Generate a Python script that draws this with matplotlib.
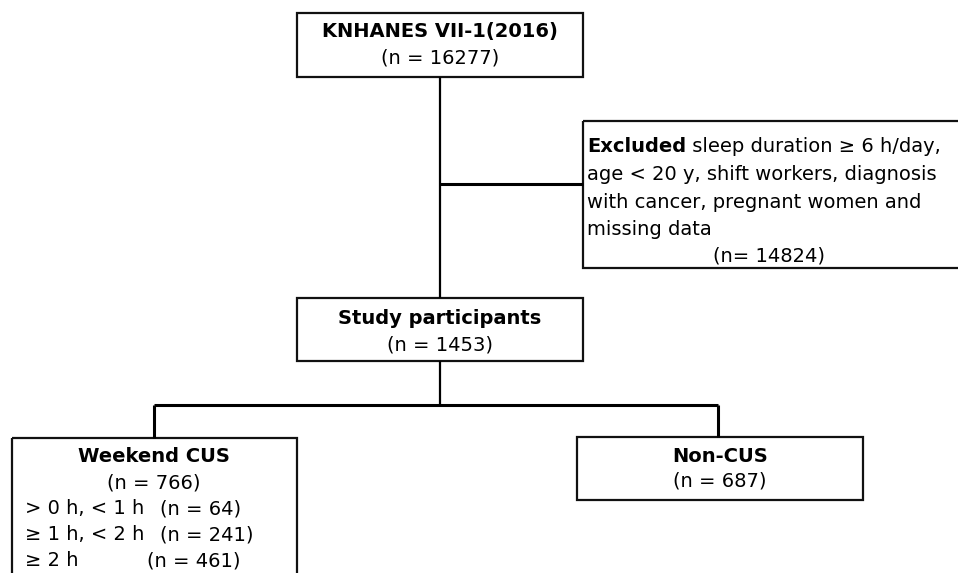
import matplotlib
matplotlib.use("Agg")
import matplotlib.pyplot as plt
from matplotlib.patches import Rectangle

plt.rcParams['font.family'] = ['DejaVu Sans']

# ---- data (texts and counts) ----
top_title = "KNHANES VII-1(2016)"
top_n = 16277
excl_title = "Excluded"
excl_lines = ["sleep duration \u2265 6 h/day,",
              "age < 20 y, shift workers, diagnosis",
              "with cancer, pregnant women and",
              "missing data"]
excl_n = 14824
study_title = "Study participants"
study_n = 1453
cus_title = "Weekend CUS"
cus_n = 766
cus_groups = ["> 0 h, < 1 h", "\u2265 1 h, < 2 h", "\u2265 2 h"]
cus_group_n = [64, 241, 461]
non_title = "Non-CUS"
non_n = 687

W, H = 958, 573
fig = plt.figure(figsize=(W / 100, H / 100), dpi=100)
ax = fig.add_axes([0, 0, 1, 1])
ax.set_xlim(0, W)
ax.set_ylim(H, 0)
ax.axis('off')

FS = 14
box_lw = 1.6
line_lw = 2.2


def box(x0, y0, x1, y1):
    ax.add_patch(Rectangle((x0, y0), x1 - x0, y1 - y0, fill=False,
                           edgecolor='#111111', lw=box_lw, clip_on=False))


def line(xs, ys, lw=line_lw):
    ax.plot(xs, ys, color='black', lw=lw, solid_capstyle='butt',
            solid_joinstyle='miter')


# connectors
line([440, 440], [77, 298], lw=1.6)
line([440, 583], [184, 184])
line([440, 440], [361, 405], lw=1.6)
line([154, 718], [405, 405])
line([154, 154], [405, 438])
line([718, 718], [405, 437])

# top box
box(297, 13, 583, 77)
ax.text(440, 32, top_title, ha='center', va='center', fontsize=FS, fontweight='bold')
ax.text(440, 58, f"(n = {top_n})", ha='center', va='center', fontsize=FS)

# excluded box
box(583, 121, 962, 268)
t1 = ax.text(587, 147, excl_title, ha='left', va='center', fontsize=FS, fontweight='bold')
ax.annotate(" " + excl_lines[0], xy=(1, 0.5), xycoords=t1, ha='left', va='center',
            fontsize=FS)
for i, s in enumerate(excl_lines[1:]):
    ax.text(587, 175 + 27.3 * i, s, ha='left', va='center', fontsize=FS)
ax.text(769, 256, f"(n= {excl_n})", ha='center', va='center', fontsize=FS)

# study box
box(297, 298, 583, 361)
ax.text(440, 318, study_title, ha='center', va='center', fontsize=FS, fontweight='bold')
ax.text(440, 345, f"(n = {study_n})", ha='center', va='center', fontsize=FS)

# weekend CUS box
box(12, 438, 297, 600)
ax.text(154, 457, cus_title, ha='center', va='center', fontsize=FS, fontweight='bold')
ax.text(154, 483, f"(n = {cus_n})", ha='center', va='center', fontsize=FS)
nx = [160, 160, 147]
for i, (g, n) in enumerate(zip(cus_groups, cus_group_n)):
    y = 509 + 26 * i
    ax.text(25, y, g, ha='left', va='center', fontsize=FS)
    ax.text(nx[i], y, f"(n = {n})", ha='left', va='center', fontsize=FS)

# non-CUS box
box(577, 437, 863, 500)
ax.text(720, 457, non_title, ha='center', va='center', fontsize=FS, fontweight='bold')
ax.text(720, 481, f"(n = {non_n})", ha='center', va='center', fontsize=FS)

fig.savefig("out.png", dpi=100, facecolor='white')
